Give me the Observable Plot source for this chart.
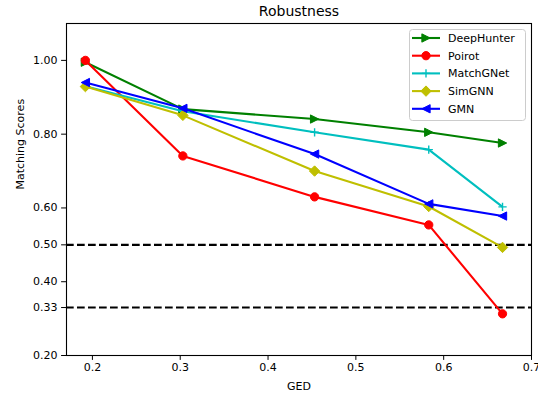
<!DOCTYPE html>
<html>
<head>
<meta charset="utf-8">
<script src="https://cdn.jsdelivr.net/npm/d3@7"></script>
<script src="https://cdn.jsdelivr.net/npm/@observablehq/plot@0.6"></script>
<style>
  body { margin: 0; background: #fff; font-family: "DejaVu Sans", sans-serif; }
  #wrap { position: relative; width: 538px; height: 394px; }
  #legend { position: absolute; left: 409px; top: 29px; }
</style>
</head>
<body>
<div id="wrap"></div>
<script>
// ---- data ----
const ged = [0.192, 0.303, 0.453, 0.583, 0.667];
const seriesNames = ["DeepHunter", "Poirot", "MatchGNet", "SimGNN", "GMN"];
const deepHunter = [0.995, 0.868, 0.841, 0.805, 0.776];
const poirot     = [1.000, 0.741, 0.630, 0.554, 0.313];
const matchGNet  = [0.930, 0.862, 0.805, 0.758, 0.603];
const simGNN     = [0.929, 0.851, 0.700, 0.604, 0.493];
const gmn        = [0.940, 0.870, 0.746, 0.611, 0.578];
const thresholds = [0.5, 0.33];
const xTicks = [0.2, 0.3, 0.4, 0.5, 0.6, 0.7];
const yTicks = [0.2, 0.33, 0.4, 0.5, 0.6, 0.8, 1.0];

// ---- marker shapes ----
const triRight = { draw(ctx, size) { const r = Math.sqrt(size / Math.PI); ctx.moveTo(r, 0); ctx.lineTo(-r, r); ctx.lineTo(-r, -r); ctx.closePath(); } };
const triLeft  = { draw(ctx, size) { const r = Math.sqrt(size / Math.PI); ctx.moveTo(-r, 0); ctx.lineTo(r, -r); ctx.lineTo(r, r); ctx.closePath(); } };
const diamond  = { draw(ctx, size) { const r = Math.sqrt(size / Math.PI) * 1.3; ctx.moveTo(0, -r); ctx.lineTo(r, 0); ctx.lineTo(0, r); ctx.lineTo(-r, 0); ctx.closePath(); } };
const plus     = { draw(ctx, size) { const r = Math.sqrt(size / Math.PI); ctx.moveTo(-r, 0); ctx.lineTo(r, 0); ctx.moveTo(0, -r); ctx.lineTo(0, r); } };

const styles = [
  { color: "#008000", symbol: triRight, r: 4.15, filled: true },
  { color: "#ff0000", symbol: d3.symbolCircle, r: 4.15, filled: true },
  { color: "#00bfbf", symbol: plus, r: 4.15, filled: false },
  { color: "#bfbf00", symbol: diamond, r: 4.0, filled: true },
  { color: "#0000ff", symbol: triLeft, r: 4.15, filled: true }
];
const values = [deepHunter, poirot, matchGNet, simGNN, gmn];

const seriesMarks = [];
seriesNames.forEach((name, i) => {
  const rows = ged.map((g, j) => ({ x: g, y: values[i][j], name }));
  const st = styles[i];
  seriesMarks.push(Plot.line(rows, { x: "x", y: "y", stroke: st.color, strokeWidth: 2.1, strokeLinejoin: "round", strokeLinecap: "butt" }));
  seriesMarks.push(Plot.dot(rows, {
    x: "x", y: "y", symbol: st.symbol, r: st.r,
    fill: st.filled ? st.color : "none", stroke: st.color, strokeWidth: st.filled ? 1 : 1.4
  }));
});

const chart = Plot.plot({
  width: 538,
  height: 394,
  marginLeft: 66,
  marginRight: 7,
  marginTop: 23,
  marginBottom: 39,
  style: { fontFamily: "DejaVu Sans, sans-serif", fontSize: "11px", color: "black", background: "white" },
  x: { domain: [0.1705, 0.7] },
  y: { domain: [0.2, 1.1] },
  marks: [
    Plot.ruleY(thresholds, { stroke: "black", strokeWidth: 2.1, strokeDasharray: "7.7,3.3" }),
    ...seriesMarks,
    Plot.frame({ stroke: "black", strokeWidth: 1.1 }),
    Plot.axisX({ ticks: xTicks, tickFormat: d3.format(".1f"), tickSize: 4.9, tickPadding: 3, label: null, fontSize: 11 }),
    Plot.axisY({ ticks: yTicks, tickFormat: d3.format(".2f"), tickSize: 4.9, tickPadding: 4, label: null, fontSize: 11 }),
    Plot.text(["Robustness"], { frameAnchor: "top", lineAnchor: "middle", dy: -12, fontSize: 14, fill: "black" }),
    Plot.text(["GED"], { frameAnchor: "bottom", lineAnchor: "middle", dy: 30.5, fontSize: 11, fill: "black" }),
    Plot.text(["Matching Scores"], { frameAnchor: "left", lineAnchor: "middle", rotate: -90, dx: -46, fontSize: 11, fill: "black" })
  ]
});
const wrap = document.getElementById("wrap");
wrap.appendChild(chart);

// ---- legend ----
const lw = 116, lh = 91;
const leg = d3.select(wrap).append("svg").attr("id", "legend").attr("width", lw + 1).attr("height", lh + 1);
leg.append("rect").attr("x", 0.5).attr("y", 0.5).attr("width", lw).attr("height", lh).attr("rx", 3)
  .attr("fill", "white").attr("fill-opacity", 0.8).attr("stroke", "#cccccc").attr("stroke-width", 1);
seriesNames.forEach((name, i) => {
  const st = styles[i];
  const y = 9 + i * 17.7;
  const g = leg.append("g");
  g.append("line").attr("x1", 3).attr("x2", 31).attr("y1", y).attr("y2", y).attr("stroke", st.color).attr("stroke-width", 2.1);
  g.append("path").attr("d", d3.symbol(st.symbol, Math.PI * st.r * st.r)()).attr("transform", `translate(17,${y})`)
    .attr("fill", st.filled ? st.color : "none").attr("stroke", st.color).attr("stroke-width", st.filled ? 1 : 1.4);
  g.append("text").attr("x", 39).attr("y", y).attr("dy", "0.35em").attr("font-size", 11)
    .attr("font-family", "DejaVu Sans, sans-serif").attr("fill", "black").text(name);
});
</script>
</body>
</html>
